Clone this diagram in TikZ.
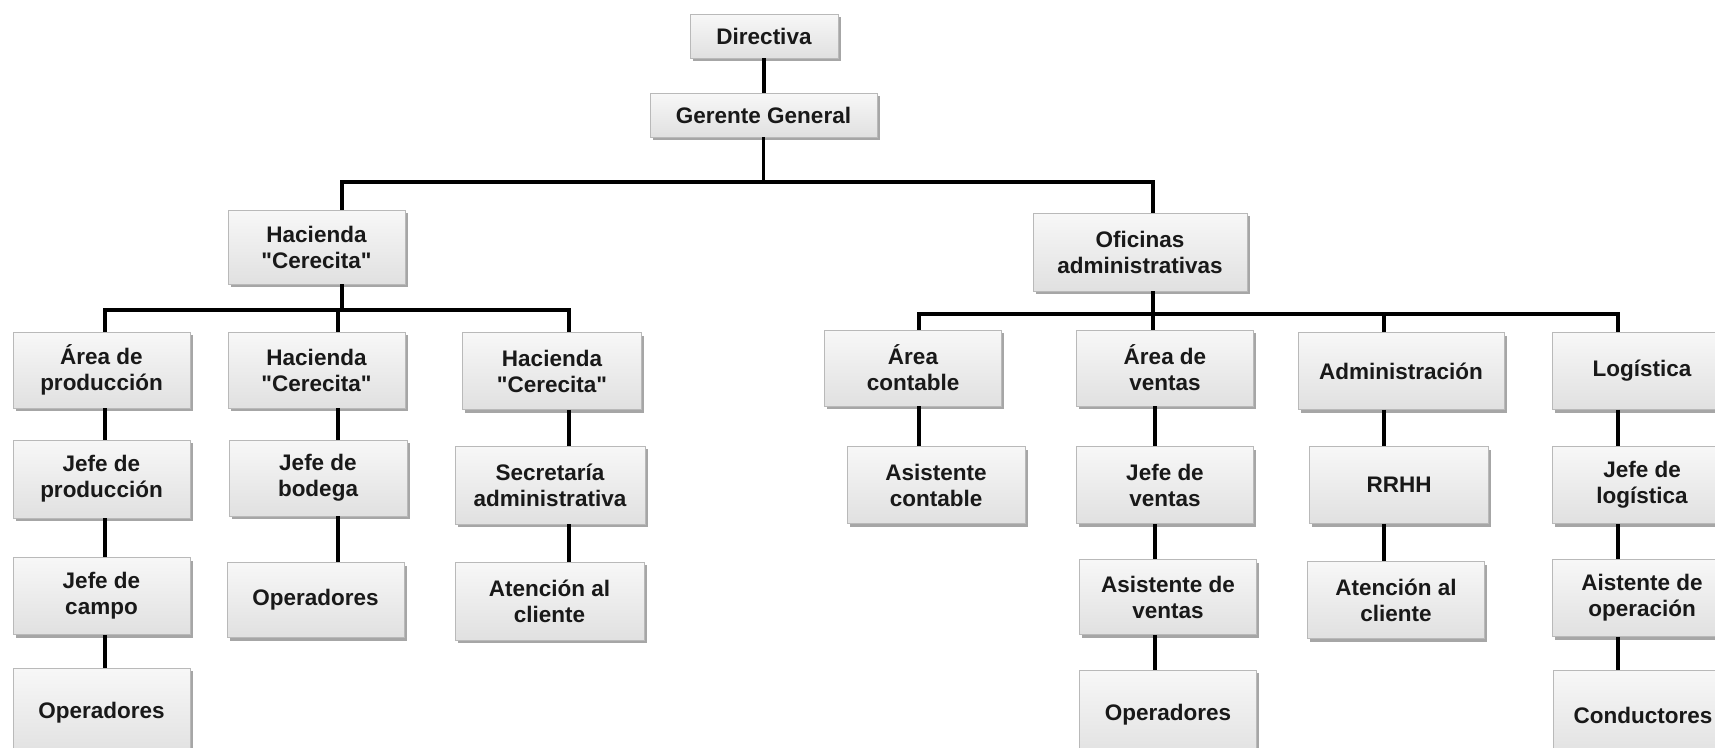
\documentclass[tikz,border=0pt]{standalone}
\usepackage{fontspec}
\setmainfont{Liberation Sans}
\newfontfamily\nq{Liberation Sans}
\usetikzlibrary{shadows}
\newcommand{\dq}{{\nq\symbol{34}}}
\begin{document}
\begin{tikzpicture}[x=1pt,y=-1pt,
  box/.style={draw=gray!55, line width=0.8pt, top color=gray!6, bottom color=gray!24,
    drop shadow={shadow xshift=2.5pt, shadow yshift=-3pt, fill=black, opacity=0.35},
    font=\bfseries\fontsize{22.5}{26}\selectfont, text=black!90, align=center, inner sep=0pt},
  conn/.style={line width=3.8pt, black, line join=miter}]
\clip (0,0) rectangle (1715,747);
\fill[white] (0,0) rectangle (1715,747);
\newcommand{\bx}[6]{\node[box, minimum width=#4pt, minimum height=#5pt] (#1) at (#2,#3) {#6};}
% top
\bx{dir}{764}{36}{148}{44}{Directiva}
\bx{ger}{763.5}{115}{227}{44}{Gerente General}
\bx{hac0}{316.5}{247}{177}{74}{Hacienda\\\dq Cerecita\dq}
\bx{ofi}{1140}{252}{214}{78}{Oficinas\\administrativas}
% row 3
\bx{apro}{101.5}{370}{177}{76}{Área de\\producción}
\bx{hac1}{316.5}{370}{177}{76}{Hacienda\\\dq Cerecita\dq}
\bx{hac2}{552}{371}{179}{77}{Hacienda\\\dq Cerecita\dq}
\bx{acon}{913}{368}{177}{76}{Área\\contable}
\bx{aven}{1165}{368}{177}{76}{Área de\\ventas}
\bx{adm}{1401}{371}{206}{77}{Administración}
\bx{log}{1642}{371}{180}{77}{Logística}
% row 4
\bx{jpro}{101.5}{479}{177}{78}{Jefe de\\producción}
\bx{jbod}{318}{478}{178}{76}{Jefe de\\bodega}
\bx{sec}{550}{485}{190}{78}{Secretaría\\administrativa}
\bx{asis}{936}{485}{178}{77}{Asistente\\contable}
\bx{jven}{1165}{485}{177}{77}{Jefe de\\ventas}
\bx{rrhh}{1399}{485}{179}{77}{RRHH}
\bx{jlog}{1642}{485}{180}{77}{Jefe de\\logística}
% row 5
\bx{jcam}{101.5}{596}{177}{77}{Jefe de\\campo}
\bx{opb}{315.5}{600}{177}{75}{Operadores}
\bx{aten1}{549.5}{601}{189}{78}{Atención al\\cliente}
\bx{asven}{1168}{597}{177}{75}{Asistente de\\ventas}
\bx{aten2}{1396}{600}{177}{77}{Atención al\\cliente}
\bx{aisop}{1642}{598}{180}{77}{Aistente de\\operación}
% row 6
\bx{op1}{101.5}{713}{177}{90}{Operadores}
\bx{opv}{1168}{715}{177}{90}{Operadores}
\bx{cond}{1643}{715}{180}{90}{Conductores}
% connector columns and buses
\coordinate (bL) at (342,182);
\coordinate (bR) at (1153,182);
\coordinate (lb) at (0,310);
\coordinate (rb) at (0,314);
\coordinate (cA) at (105,0);
\coordinate (cB) at (338,0);
\coordinate (cC) at (569,0);
\coordinate (cD) at (919,0);
\coordinate (cE) at (1155,0);
\coordinate (cF) at (1384,0);
\coordinate (cG) at (1618,0);
% top connectors
\draw[conn] (dir.south) -- (ger.north -| dir.south);
\draw[conn] (ger.south) -- (ger.south |- bL);
\draw[conn] (hac0.north -| bL) -- (bL) -- (bR) -- (ofi.north -| bR);
% left bus
\draw[conn] (hac0.south -| bL) -- (bL |- lb);
\draw[conn] (apro.north -| cA) -- (cA |- lb) -- (cC |- lb) -- (hac2.north -| cC);
\draw[conn] (hac1.north -| cB) -- (cB |- lb);
% right bus
\draw[conn] (ofi.south -| bR) -- (bR |- rb);
\draw[conn] (acon.north -| cD) -- (cD |- rb) -- (cG |- rb) -- (log.north -| cG);
\draw[conn] (aven.north -| bR) -- (bR |- rb);
\draw[conn] (adm.north -| cF) -- (cF |- rb);
% columns
\draw[conn] (apro.south -| cA) -- (jpro.north -| cA);
\draw[conn] (jpro.south -| cA) -- (jcam.north -| cA);
\draw[conn] (jcam.south -| cA) -- (op1.north -| cA);
\draw[conn] (hac1.south -| cB) -- (jbod.north -| cB);
\draw[conn] (jbod.south -| cB) -- (opb.north -| cB);
\draw[conn] (hac2.south -| cC) -- (sec.north -| cC);
\draw[conn] (sec.south -| cC) -- (aten1.north -| cC);
\draw[conn] (acon.south -| cD) -- (asis.north -| cD);
\draw[conn] (aven.south -| cE) -- (jven.north -| cE);
\draw[conn] (jven.south -| cE) -- (asven.north -| cE);
\draw[conn] (asven.south -| cE) -- (opv.north -| cE);
\draw[conn] (adm.south -| cF) -- (rrhh.north -| cF);
\draw[conn] (rrhh.south -| cF) -- (aten2.north -| cF);
\draw[conn] (log.south -| cG) -- (jlog.north -| cG);
\draw[conn] (jlog.south -| cG) -- (aisop.north -| cG);
\draw[conn] (aisop.south -| cG) -- (cond.north -| cG);
\end{tikzpicture}
\end{document}
